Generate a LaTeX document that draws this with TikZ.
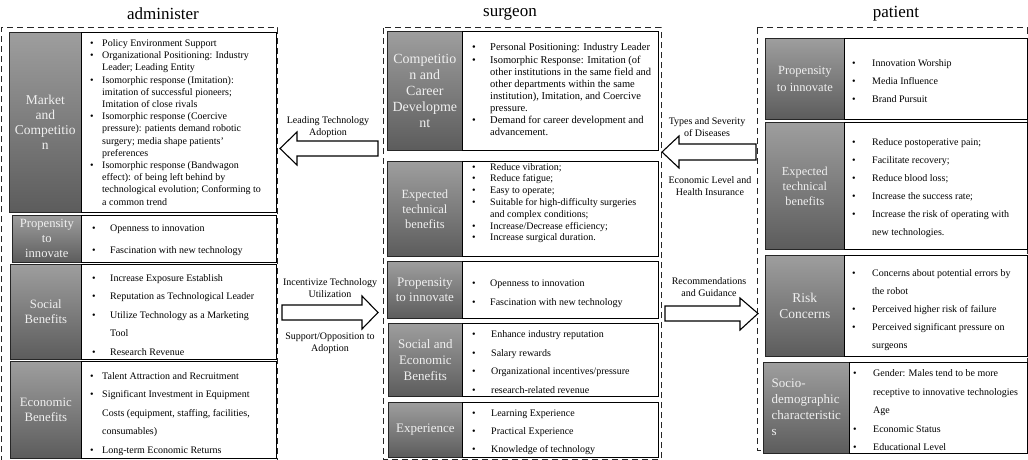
\documentclass[tikz,border=0pt]{standalone}
\usepackage{fontspec}
\setmainfont{Liberation Serif}
\definecolor{gtop}{RGB}{158,158,158}
\definecolor{gbot}{RGB}{92,92,92}
\definecolor{glabel}{RGB}{240,240,240}
\tikzset{
  graybox/.style={draw=black!85, line width=0.7pt, top color=gtop, bottom color=gbot,
    text=glabel, align=center, inner sep=0pt, anchor=north west},
  whitebox/.style={draw=black, line width=1.3pt, fill=white, inner sep=0pt, anchor=north west},
  groupbox/.style={draw=black!85, dash pattern=on 6pt off 4pt, line width=1pt},
  titletext/.style={font=\fontsize{17}{20}\selectfont, inner sep=0pt},
  blockarrow/.style={draw=black, line width=1.1pt, fill=white, line join=miter},
  arrowlabel/.style={align=center, font=\fontsize{10}{12}\selectfont, inner sep=0pt},
  bl/.style={anchor=base west, inner sep=0pt, align=left},
}
\newcommand\mkrow[9]{%
  \node[graybox, font={\fontsize{#7}{#8}\selectfont}, minimum width={#3-#2}, minimum height={#6-#5}] (#1-l) at (#2,#5) {#9};
  \node[whitebox, minimum width={#4-#3}, minimum height={#6-#5}] (#1-r) at (#3,#5) {};
}
\begin{document}
\begin{tikzpicture}[x=1pt,y=-1pt]
\useasboundingbox (0,0) rectangle (1028,460);

% titles
\node[titletext] (tA) at (163,14) {administer};
\node[titletext] (tS) at (510,14) {surgeon};
\node[titletext] (tP) at (896,14) {patient};

% group boxes
\draw[groupbox] (1.5,462) -- (1.5,28) -- (277.5,28) -- (277.5,462);
\draw[groupbox] (383,28) rectangle (661,459);
\draw[groupbox] (757,28) rectangle (1027.5,450.5);

% ---------------- LEFT ----------------
\mkrow{am}{9}{81}{276}{32}{212}{13.5}{15}{Market\\and\\Competitio\\n}
\node[bl, font=\fontsize{10}{12.2}\selectfont] (am-t) at (90,46.5) {\begin{tabular}[t]{@{}p{12pt}@{}l@{}}
\textbullet & Policy Environment Support\\
\textbullet & Organizational Positioning: Industry\\
 & Leader; Leading Entity\\
\textbullet & Isomorphic response (Imitation):\\
 & imitation of successful pioneers;\\
 & Imitation of close rivals\\
\textbullet & Isomorphic response (Coercive\\
 & pressure): patients demand robotic\\
 & surgery; media shape patients'\\
 & preferences\\
\textbullet & Isomorphic response (Bandwagon\\
 & effect): of being left behind by\\
 & technological evolution; Conforming to\\
 & a common trend
\end{tabular}};

\mkrow{ap}{12}{81}{276}{215}{262}{12.6}{15}{Propensity\\to\\innovate}
\node[bl, font=\fontsize{10}{22}\selectfont] (ap-t) at (92,231) {\begin{tabular}[t]{@{}p{18pt}@{}l@{}}
\textbullet & Openness to innovation\\
\textbullet & Fascination with new technology
\end{tabular}};

\mkrow{as}{10}{81}{276}{264}{359}{12.7}{15}{Social\\Benefits}
\node[bl, font=\fontsize{10}{18.5}\selectfont] (as-t) at (92,281) {\begin{tabular}[t]{@{}p{18pt}@{}l@{}}
\textbullet & Increase Exposure Establish\\
\textbullet & Reputation as Technological Leader\\
\textbullet & Utilize Technology as a Marketing\\
 & Tool\\
\textbullet & Research Revenue
\end{tabular}};

\mkrow{ae}{10}{81}{276}{361}{458}{12.8}{15}{Economic\\Benefits}
\node[bl, font=\fontsize{10}{18.5}\selectfont] (ae-t) at (90,379) {\begin{tabular}[t]{@{}p{12pt}@{}l@{}}
\textbullet & Talent Attraction and Recruitment\\
\textbullet & Significant Investment in Equipment\\
 & Costs (equipment, staffing, facilities,\\
 & consumables)\\
\textbullet & Long-term Economic Returns
\end{tabular}};

% ---------------- MIDDLE ----------------
\mkrow{sc}{387}{462}{658}{31}{150}{14}{16}{Competitio\\n and\\Career\\Developme\\nt}
\node[bl, font=\fontsize{10.5}{12.1}\selectfont] (sc-t) at (472,51) {\begin{tabular}[t]{@{}p{18pt}@{}l@{}}
\textbullet & Personal Positioning: Industry Leader\\
\textbullet & Isomorphic Response: Imitation (of\\
 & other institutions in the same field and\\
 & other departments within the same\\
 & institution), Imitation, and Coercive\\
 & pressure.\\
\textbullet & Demand for career development and\\
 & advancement.
\end{tabular}};

\mkrow{se}{387}{462}{658}{161}{256}{12.5}{15}{Expected\\technical\\benefits}
\node[bl, font=\fontsize{10}{11.8}\selectfont] (se-t) at (472,170) {\begin{tabular}[t]{@{}p{18pt}@{}l@{}}
\textbullet & Reduce vibration;\\
\textbullet & Reduce fatigue;\\
\textbullet & Easy to operate;\\
\textbullet & Suitable for high-difficulty surgeries\\
 & and complex conditions;\\
\textbullet & Increase/Decrease efficiency;\\
\textbullet & Increase surgical duration.
\end{tabular}};

\mkrow{sp}{387}{462}{658}{261}{318}{13}{15}{Propensity\\to innovate}
\node[bl, font=\fontsize{10}{18.7}\selectfont] (sp-t) at (472,286.5) {\begin{tabular}[t]{@{}p{18pt}@{}l@{}}
\textbullet & Openness to innovation\\
\textbullet & Fascination with new technology
\end{tabular}};

\mkrow{ss}{388}{462}{658}{323}{396}{13}{16}{Social and\\Economic\\Benefits}
\node[bl, font=\fontsize{10}{18.7}\selectfont] (ss-t) at (472,337.5) {\begin{tabular}[t]{@{}p{19pt}@{}l@{}}
\textbullet & Enhance industry reputation\\
\textbullet & Salary rewards\\
\textbullet & Organizational incentives/pressure\\
\textbullet & research-related revenue
\end{tabular}};

\mkrow{sx}{388}{462}{658}{402}{457}{13}{15}{Experience}
\node[bl, font=\fontsize{10}{18}\selectfont] (sx-t) at (472,416.5) {\begin{tabular}[t]{@{}p{19pt}@{}l@{}}
\textbullet & Learning Experience\\
\textbullet & Practical Experience\\
\textbullet & Knowledge of technology
\end{tabular}};

% ---------------- RIGHT ----------------
\mkrow{pp}{765}{844}{1027}{38}{119}{12.5}{16.5}{Propensity\\to innovate}
\node[bl, font=\fontsize{10}{18}\selectfont] (pp-t) at (852,66.5) {\begin{tabular}[t]{@{}p{20pt}@{}l@{}}
\textbullet & Innovation Worship\\
\textbullet & Media Influence\\
\textbullet & Brand Pursuit
\end{tabular}};

\mkrow{pe}{765}{844}{1027}{122}{249}{12.3}{15}{Expected\\technical\\benefits}
\node[bl, font=\fontsize{10}{18}\selectfont] (pe-t) at (852,145.5) {\begin{tabular}[t]{@{}p{20pt}@{}l@{}}
\textbullet & Reduce postoperative pain;\\
\textbullet & Facilitate recovery;\\
\textbullet & Reduce blood loss;\\
\textbullet & Increase the success rate;\\
\textbullet & Increase the risk of operating with\\
 & new technologies.
\end{tabular}};

\mkrow{pr}{765}{844}{1027}{255}{356}{13.5}{16}{Risk\\Concerns}
\node[bl, font=\fontsize{10}{18}\selectfont] (pr-t) at (852,276.5) {\begin{tabular}[t]{@{}p{20pt}@{}l@{}}
\textbullet & Concerns about potential errors by\\
 & the robot\\
\textbullet & Perceived higher risk of failure\\
\textbullet & Perceived significant pressure on\\
 & surgeons
\end{tabular}};

\mkrow{ps}{763}{849}{1027}{362}{453}{13}{16}{\begin{tabular}{@{}l@{}}Socio-\\demographic\\characteristic\\s\end{tabular}}
\node[bl, font=\fontsize{10}{18.5}\selectfont] (ps-t) at (853,376.5) {\begin{tabular}[t]{@{}p{20pt}@{}l@{}}
\textbullet & Gender: Males tend to be more\\
 & receptive to innovative technologies\\
 & Age\\
\textbullet & Economic Status\\
\textbullet & Educational Level
\end{tabular}};

% ---------------- BLOCK ARROWS ----------------
% Leading Technology Adoption (points left, towards administer)
\draw[blockarrow] (280,148.5) -- (297,132) -- (297,141) -- (378,141) -- (378,156) -- (297,156) -- (297,165) -- cycle;
\node[arrowlabel] (lab1) at (328,127) {Leading Technology\\Adoption};
% Incentivize (points right, towards surgeon)
\draw[blockarrow] (378,312.5) -- (362,296) -- (362,305) -- (282,305) -- (282,320) -- (362,320) -- (362,329) -- cycle;
\node[arrowlabel] (lab2) at (330,288.5) {Incentivize Technology\\Utilization};
\node[arrowlabel] (lab3) at (330,343) {Support/Opposition to\\Adoption};
% Types and severity (points left, towards surgeon)
\draw[blockarrow] (662,152) -- (679,136) -- (679,144) -- (756,144) -- (756,160) -- (679,160) -- (679,168) -- cycle;
\node[arrowlabel] (lab4) at (707,127) {Types and Severity\\of Diseases};
\node[arrowlabel] (lab5) at (710,186) {Economic Level and\\Health Insurance};
% Recommendations (points right, towards patient)
\draw[blockarrow] (758,313.5) -- (740,298) -- (740,306) -- (665,306) -- (665,321) -- (740,321) -- (740,330) -- cycle;
\node[arrowlabel] (lab6) at (709,287) {Recommendations\\and Guidance};
\end{tikzpicture}
\end{document}
